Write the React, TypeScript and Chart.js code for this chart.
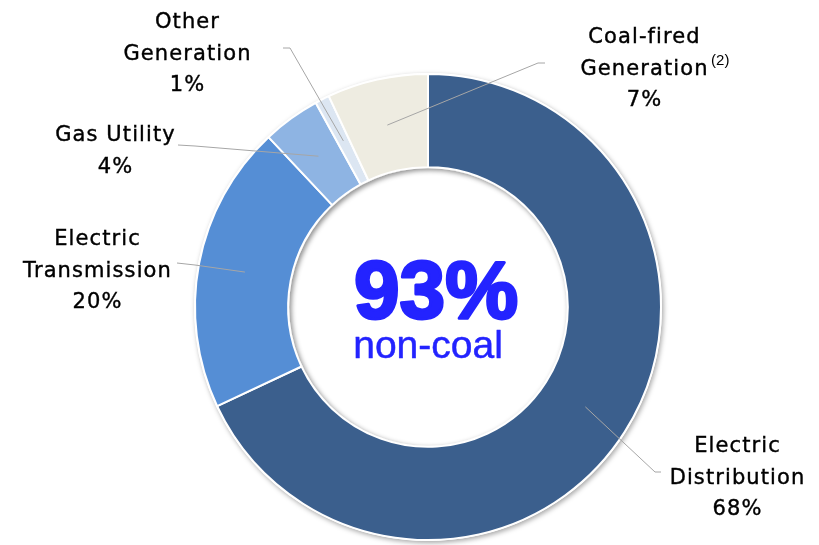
import React, { useEffect, useRef } from "react";
import { Chart, registerables } from "chart.js";

Chart.register(...registerables);

const categories = [
  "Electric\nDistribution",
  "Electric\nTransmission",
  "Gas Utility",
  "Other\nGeneration",
  "Coal-fired\nGeneration",
];
const shares = [68, 20, 4, 1, 7];
const colors = ["#3B5F8D", "#558ED5", "#8EB4E3", "#DCE6F2", "#EEECE1"];
const footnotes = ["", "", "", "", "(2)"];
const centerBig = "93%";
const centerSmall = "non-coal";

// label layout: text center x, first baseline y, leader end point, elbow point
const labelLayout = [
  { tx: 737, ty: 452, ex: 661, ey: 472, bx: 655, by: 472 },
  { tx: 97, ty: 245, ex: 177, ey: 263, bx: 195, by: 265 },
  { tx: 115, ty: 141, ex: 178, ey: 145, bx: 195, by: 146 },
  { tx: 187, ty: 28, ex: 283, ey: 48, bx: 290, by: 48 },
  { tx: 644, ty: 43, ex: 545, ey: 63, bx: 538, by: 63 },
];

const decorPlugin = {
  id: "decor",
  beforeDatasetsDraw(chart: any) {
    const meta = chart.getDatasetMeta(0);
    const arc = meta.data[0];
    if (!arc) return;
    const { x, y, outerRadius } = arc.getProps(["x", "y", "outerRadius"], true);
    const ctx = chart.ctx;
    ctx.save();
    ctx.shadowColor = "rgba(0,0,0,0.35)";
    ctx.shadowBlur = 5;
    ctx.shadowOffsetX = 1.5;
    ctx.shadowOffsetY = 2;
    ctx.fillStyle = "#ffffff";
    ctx.beginPath();
    ctx.arc(x, y, outerRadius + 1, 0, Math.PI * 2);
    ctx.fill();
    ctx.restore();
  },
  afterDatasetsDraw(chart: any) {
    const meta = chart.getDatasetMeta(0);
    const arc0 = meta.data[0];
    if (!arc0) return;
    const { x, y, innerRadius, outerRadius } = arc0.getProps(
      ["x", "y", "innerRadius", "outerRadius"],
      true
    );
    const ctx = chart.ctx;
    // inner shadow in the hole
    ctx.save();
    ctx.beginPath();
    ctx.arc(x, y, innerRadius - 1, 0, Math.PI * 2);
    ctx.clip();
    ctx.shadowColor = "rgba(0,0,0,0.45)";
    ctx.shadowBlur = 5;
    ctx.shadowOffsetX = 2;
    ctx.shadowOffsetY = 2;
    ctx.strokeStyle = "#ffffff";
    ctx.lineWidth = 20;
    ctx.beginPath();
    ctx.arc(x, y, innerRadius + 9, 0, Math.PI * 2);
    ctx.stroke();
    ctx.restore();

    const mid = (innerRadius + outerRadius) / 2;
    // leader lines + labels
    meta.data.forEach((el: any, i: number) => {
      const { startAngle, endAngle } = el.getProps(["startAngle", "endAngle"], true);
      const a = (startAngle + endAngle) / 2;
      const sx = x + Math.cos(a) * mid;
      const sy = y + Math.sin(a) * mid;
      const L = labelLayout[i];
      ctx.save();
      ctx.strokeStyle = "#A6A6A6";
      ctx.lineWidth = 1;
      ctx.beginPath();
      ctx.moveTo(sx, sy);
      ctx.lineTo(L.bx, L.by);
      ctx.lineTo(L.ex, L.ey);
      ctx.stroke();
      ctx.restore();

      const lines = categories[i].split("\n").concat([shares[i] + "%"]);
      ctx.save();
      ctx.fillStyle = "#000000";
      ctx.strokeStyle = "#000000";
      ctx.lineWidth = 0.4;
      ctx.font = "21px 'DejaVu Sans', sans-serif";
      (ctx as any).letterSpacing = "1.1px";
      ctx.textAlign = "center";
      ctx.textBaseline = "alphabetic";
      lines.forEach((t: string, j: number) => {
        const yy = L.ty + j * 31.5;
        ctx.fillText(t, L.tx + 0.5, yy);
        ctx.strokeText(t, L.tx + 0.5, yy);
        if (j === 1 && footnotes[i]) {
          const w = ctx.measureText(t).width;
          ctx.save();
          (ctx as any).letterSpacing = "0px";
          ctx.font = "15px 'Liberation Sans', Arial, sans-serif";
          ctx.textAlign = "left";
          ctx.fillText(footnotes[i], L.tx + w / 2 + 3, yy - 10);
          ctx.restore();
        }
      });
      ctx.restore();
    });

    // center text
    ctx.save();
    ctx.fillStyle = "#2323FF";
    ctx.strokeStyle = "#2323FF";
    ctx.textAlign = "center";
    ctx.textBaseline = "alphabetic";
    ctx.font = "bold 82px 'Liberation Sans', Arial, sans-serif";
    ctx.lineWidth = 3;
    ctx.lineJoin = "round";
    ctx.fillText(centerBig, x + 8, y + 11);
    ctx.strokeText(centerBig, x + 8, y + 11);
    ctx.font = "39px 'Liberation Sans', Arial, sans-serif";
    ctx.lineWidth = 0.5;
    ctx.fillText(centerSmall, x, y + 51);
    ctx.strokeText(centerSmall, x, y + 51);
    ctx.restore();
  },
};

export default function App() {
  const ref = useRef<HTMLCanvasElement>(null);
  useEffect(() => {
    if (!ref.current) return;
    const chart = new Chart(ref.current, {
      type: "doughnut",
      data: {
        labels: categories.map((c) => c.replace("\n", " ")),
        datasets: [
          {
            data: shares,
            backgroundColor: colors,
            borderColor: "#ffffff",
            borderWidth: 2,
            hoverOffset: 0,
          },
        ],
      },
      options: {
        responsive: false,
        animation: false,
        cutout: "60%",
        layout: { padding: { left: 194, top: 73, right: 157, bottom: 4 } },
        plugins: {
          legend: { display: false },
          tooltip: { enabled: false },
        },
      },
      plugins: [decorPlugin],
    });
    return () => chart.destroy();
  }, []);
  return (
    <div style={{ position: "fixed", left: 0, top: 0, width: 819, height: 545, background: "#fff" }}>
      <canvas ref={ref} width={819} height={545} style={{ width: 819, height: 545 }} />
    </div>
  );
}
